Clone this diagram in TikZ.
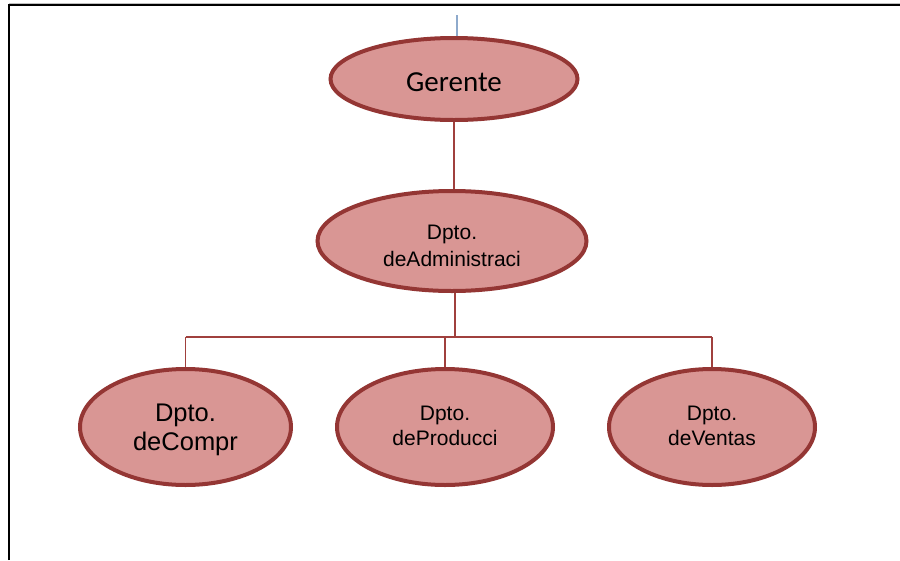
\documentclass[tikz,border=0pt]{standalone}
\usepackage{fontspec}
\setmainfont{Liberation Sans}
\newfontfamily\calibri{Carlito}
\usetikzlibrary{shapes.geometric}

\definecolor{dptofill}{HTML}{D99694}
\definecolor{dptoline}{HTML}{943634}
\definecolor{linkred}{HTML}{A0403D}
\definecolor{guideblue}{HTML}{8EAACC}

% text lowered inside its ellipse, without changing the ellipse size
\newcommand\dptotext[2]{\raisebox{-#1}[0pt][0pt]{\begin{tabular}{@{}c@{}}#2\end{tabular}}}

\begin{document}
\begin{tikzpicture}[x=1pt,y=-1pt,
    dpto/.style={ellipse,draw=dptoline,line width=4pt,fill=dptofill,inner sep=0pt},
    link/.style={draw=linkred,line width=1.5pt}]
      \useasboundingbox (0,0) rectangle (900,560);

      % page frame and guide
      \draw[gray!50,line width=1pt] (9,3.5) -- (900,3.5);
      \draw[line width=2pt] (9,560) -- (9,5) -- (900,5);
      \draw[guideblue,line width=1.2pt] (457,15) -- (457,45);

      \node[dpto,minimum width=247pt,minimum height=82pt,font=\calibri\fontsize{29}{34}\selectfont] (ger) at (454,79) {\raisebox{-12pt}[0pt][0pt]{Gerente}};
      \node[dpto,minimum width=269pt,minimum height=100pt,font=\fontsize{21}{27}\selectfont] (adm) at (452,241) {\dptotext{11.5pt}{Dpto.\\deAdministraci}};

      \node[dpto,minimum width=211pt,minimum height=116pt,font=\fontsize{25.5}{28.5}\selectfont] (com) at (185.5,427) {\dptotext{9.5pt}{Dpto.\\deCompr}};
      \node[dpto,minimum width=216pt,minimum height=116pt,font=\fontsize{21}{25}\selectfont] (pro) at (445,427) {\dptotext{6pt}{Dpto.\\deProducci}};
      \node[dpto,minimum width=206pt,minimum height=116pt,font=\fontsize{21}{25}\selectfont] (ven) at (712,427) {\dptotext{6pt}{Dpto.\\deVentas}};

      % connectors
      \coordinate (bar) at (455,337);
      \draw[link] (ger.south) -- (ger.south |- adm.north);
      \draw[link] (bar |- adm.south) -- (bar);
      \draw[link] (com.north |- bar) -- (ven.north |- bar);
      \foreach \n in {com,pro,ven} {
        \draw[link] (\n.north |- bar) -- (\n.north);
      }

    \end{tikzpicture}
\end{document}
